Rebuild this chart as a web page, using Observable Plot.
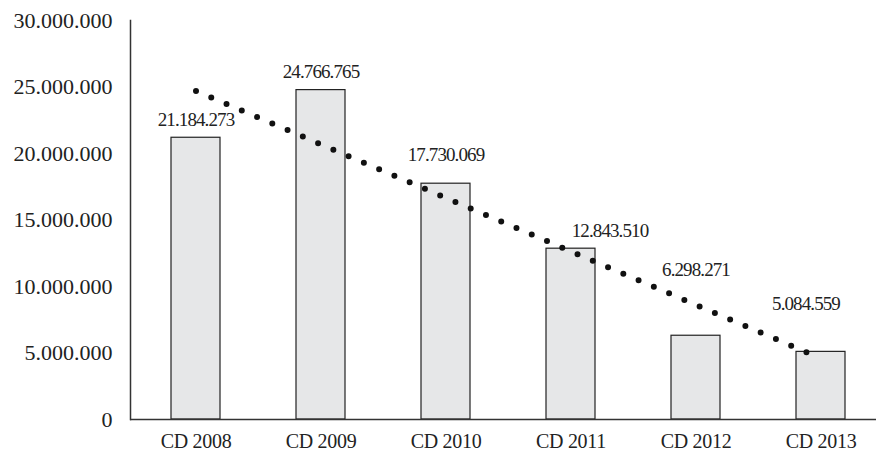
<!DOCTYPE html>
<html>
<head>
<meta charset="utf-8">
<script src="https://cdn.jsdelivr.net/npm/d3@7"></script>
<script src="https://cdn.jsdelivr.net/npm/@observablehq/plot@0.6"></script>
<style>
  html, body { margin: 0; padding: 0; background: #fff; }
  #chart svg { display: block; }
  #chart svg g[aria-label="text"] text { letter-spacing: -0.9px; }
  #chart svg g[aria-label="x-axis tick label"] text { letter-spacing: -0.3px; }
</style>
</head>
<body>
<div id="chart"></div>
<script>
// Categories and values
const categories = ["CD 2008", "CD 2009", "CD 2010", "CD 2011", "CD 2012", "CD 2013"];
const values = [21184273, 24766765, 17730069, 12843510, 6298271, 5084559];
const yTicks = [0, 5000000, 10000000, 15000000, 20000000, 25000000, 30000000];

// Value-label nudges (px) so the labels clear the dotted trend line
const labelDx = [0, 0, 0, 39, 0, -15];
const labelDy = [-18, -18, -29, -18, -66, -48];

const rows = categories.map((c, i) => ({cat: c, value: values[i], dx: labelDx[i], dy: labelDy[i]}));

// Dotted number format: 21.184.273
const fmt = d3.formatLocale({decimal: ",", thousands: ".", grouping: [3], currency: ["", ""]}).format(",d");

// Least-squares trend over the category index
const xs = values.map((_, i) => i + 1);
const mx = d3.mean(xs), my = d3.mean(values);
const slope = d3.sum(xs, (x, i) => (x - mx) * (values[i] - my)) / d3.sum(xs, x => (x - mx) ** 2);
const trend = categories.map((c, i) => ({cat: c, value: my + slope * (xs[i] - mx)}));

const font = "'Liberation Serif', 'DejaVu Serif', serif";

const chart = Plot.plot({
  width: 876,
  height: 454,
  marginLeft: 130,
  marginRight: 0,
  marginTop: 20,
  marginBottom: 35,
  style: {fontFamily: font, background: "#fff", color: "#222"},
  x: {domain: categories, range: [130, 885], paddingInner: 0.61, paddingOuter: 0.305, label: null},
  y: {domain: [0, 30000000], label: null},
  marks: [
    Plot.barY(rows, {x: "cat", y: "value", fill: "#e6e7e8", stroke: "#222", strokeWidth: 1.2}),
    Plot.line(trend, {x: "cat", y: "value", stroke: "#111", strokeWidth: 6, strokeLinecap: "round", strokeDasharray: "0 16.6"}),
    ...rows.map(r => Plot.text([r], {
      x: "cat", y: "value", text: d => fmt(d.value),
      dx: r.dx, dy: r.dy, fontSize: 19, fill: "#222"
    })),
    Plot.axisY({ticks: yTicks, tickFormat: fmt, tickSize: 0, tickPadding: 18, fontSize: 22, fill: "#222"}),
    Plot.axisX({tickSize: 0, tickPadding: 14, fontSize: 20, fill: "#222"}),
    Plot.frame({anchor: "left", stroke: "#333", strokeWidth: 1.5}),
    Plot.ruleY([0], {stroke: "#333", strokeWidth: 1.5})
  ]
});

document.getElementById("chart").appendChild(chart);
</script>
</body>
</html>
